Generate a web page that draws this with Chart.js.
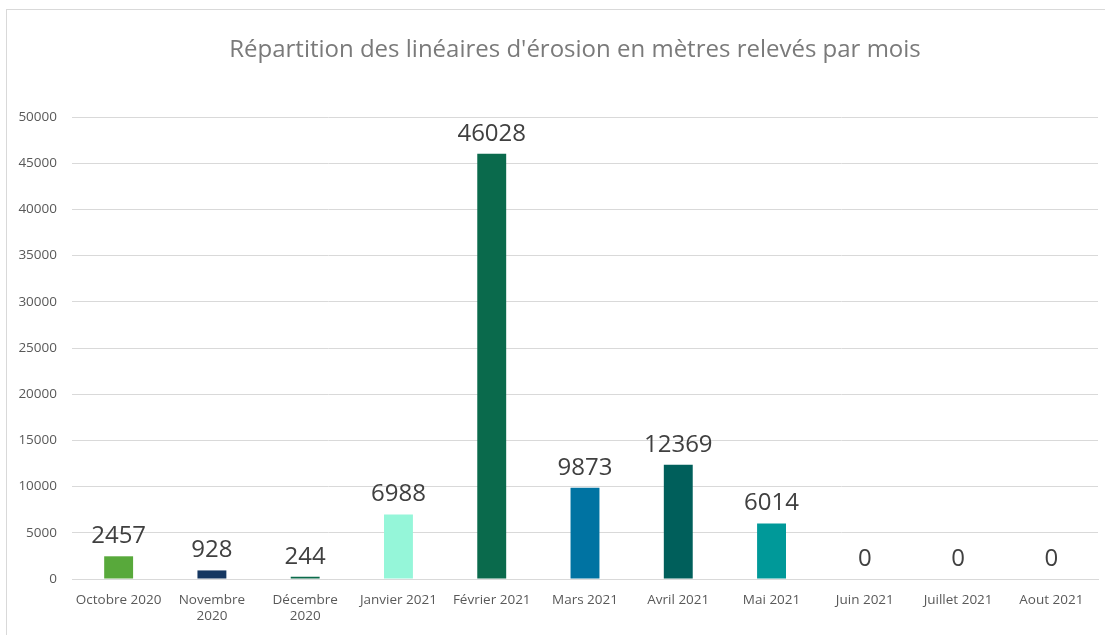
<!DOCTYPE html>
<html>
<head>
<meta charset="utf-8">
<script src="https://cdn.jsdelivr.net/npm/chart.js@4"></script>
<style>
  html, body { margin: 0; padding: 0; background: #fff; }
  #wrap { position: relative; width: 1105px; height: 635px; }
  #frame { position: absolute; left: 6px; top: 9px; right: 0; bottom: 0;
           border-left: 1px solid #d9d9d9; border-top: 1px solid #d9d9d9; pointer-events: none; }
</style>
</head>
<body>
<div id="wrap">
  <canvas id="erosionChart" width="1105" height="635"></canvas>
  <div id="frame"></div>
</div>
<script>
const chartTitle = "Répartition des linéaires d'érosion en mètres relevés par mois";
const months = [
    'Octobre 2020', ['Novembre', '2020'], ['Décembre', '2020'], 'Janvier 2021',
    'Février 2021', 'Mars 2021', 'Avril 2021', 'Mai 2021',
    'Juin 2021', 'Juillet 2021', 'Aout 2021'
];
const metres = [2457, 928, 244, 6988, 46028, 9873, 12369, 6014, 0, 0, 0];
const barColors = [
    '#58a93b', '#153761', '#0c6b4b', '#95f6d9', '#0a6a4c', '#0073a2',
    '#005f5b', '#009999', '#7f7f7f', '#7f7f7f', '#7f7f7f'
];
const yTicks = { min: 0, max: 50000, step: 5000 };

// draws the title and the value above each bar
const labelsPlugin = {
    id: 'labelsPlugin',
    afterDatasetsDraw(chart) {
        const ctx = chart.ctx;
        ctx.save();
        ctx.font = '24px "Open Sans"';
        ctx.fillStyle = '#7a7a7a';
        ctx.textAlign = 'center';
        ctx.textBaseline = 'alphabetic';
        ctx.fillText(chartTitle, 575, 57);

        ctx.fillStyle = '#404040';
        const meta = chart.getDatasetMeta(0);
        meta.data.forEach((bar, i) => {
            ctx.fillText(String(metres[i]), bar.x, bar.y - 13);
        });
        ctx.restore();
    }
};

const ctx = document.getElementById('erosionChart').getContext('2d');
const erosionChart = new Chart(ctx, {
    type: 'bar',
    data: {
        labels: months,
        datasets: [{
            label: 'Linéaires (m)',
            data: metres,
            backgroundColor: barColors,
            borderWidth: 0,
            barPercentage: 0.31,
            categoryPercentage: 1
        }]
    },
    options: {
        responsive: false,
        animation: false,
        layout: { padding: { top: 117, right: 7, bottom: 0, left: 0 } },
        plugins: {
            legend: { display: false },
            tooltip: { enabled: false },
            title: { display: false }
        },
        scales: {
            x: {
                grid: { display: false },
                border: { display: true, color: '#d9d9d9', width: 1 },
                ticks: {
                    color: '#595959',
                    font: { family: 'Open Sans', size: 13.5 },
                    maxRotation: 0,
                    autoSkip: false,
                    padding: 5
                },
                afterFit(scale) { scale.height = 56; }
            },
            y: {
                min: yTicks.min,
                max: yTicks.max,
                grid: { color: '#d9d9d9', drawTicks: false },
                border: { display: false },
                ticks: {
                    stepSize: yTicks.step,
                    color: '#595959',
                    font: { family: 'Open Sans', size: 13.5 },
                    padding: 15,
                    callback: (value) => String(value)
                },
                afterFit(scale) { scale.width = 72; }
            }
        }
    },
    plugins: [labelsPlugin]
});
</script>
</body>
</html>
